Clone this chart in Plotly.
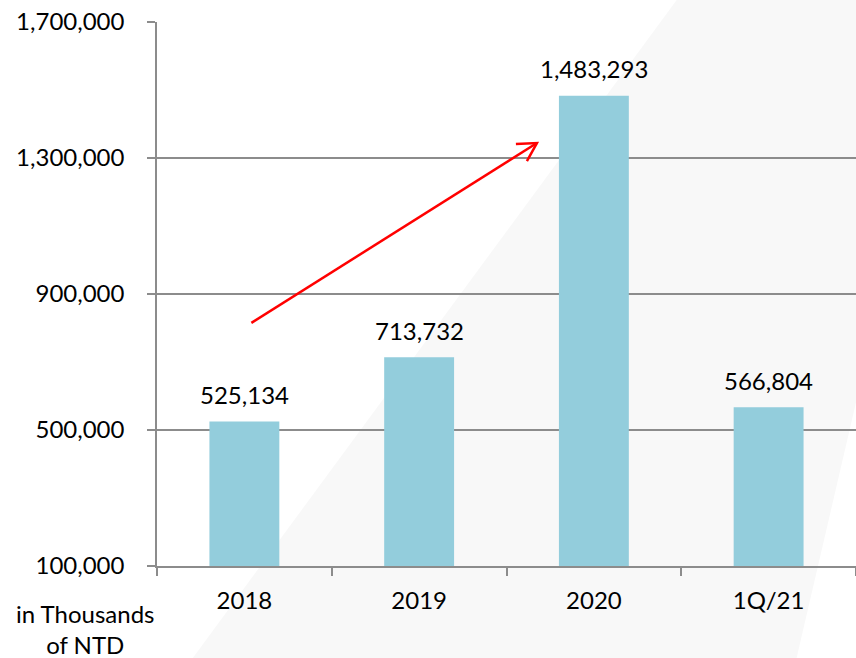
import plotly.graph_objects as go

categories = ["2018", "2019", "2020", "1Q/21"]
values = [525134, 713732, 1483293, 566804]
value_labels = ["525,134", "713,732", "1,483,293", "566,804"]
y_ticks = [100000, 500000, 900000, 1300000, 1700000]
y_tick_labels = ["100,000", "500,000", "900,000", "1,300,000", "1,700,000"]
unit_note = "in Thousands<br>of NTD"
# trend arrow (category index, value)
arrow_start = [0.04, 815000]
arrow_end = [1.674, 1344000]

FONT = "Lato"
BAR = "#93CDDC"
GRID = "#8C8C8C"

fig = go.Figure()
fig.add_trace(go.Bar(
    x=categories, y=values, width=0.4,
    marker=dict(color=BAR, line=dict(width=0)),
    hoverinfo="x+y",
))

for i, (v, lab) in enumerate(zip(values, value_labels)):
    fig.add_annotation(x=i, y=v, text=lab, showarrow=False, yshift=27,
                       xanchor="center", yanchor="middle",
                       font=dict(family=FONT, size=24, color="#000000"))

# faint diagonal background band
fig.add_shape(type="path", xref="paper", yref="paper", layer="below",
              path="M 0.754,1.0588 L 1.137,1.0588 L 0.911,-0.1912 L 0.0386,-0.1912 Z",
              fillcolor="#F8F8F8", line=dict(width=0))

# arrow shaft
fig.add_shape(type="line", xref="x", yref="y",
              x0=arrow_start[0], y0=arrow_start[1], x1=arrow_end[0], y1=arrow_end[1],
              line=dict(color="#FF0000", width=2.5))
# open arrow head (pixel offsets from the tip)
fig.add_shape(type="path", xref="x", yref="y", xsizemode="pixel", ysizemode="pixel",
              xanchor=arrow_end[0], yanchor=arrow_end[1],
              path="M -21,-1 L 0,0 L -10,-18",
              line=dict(color="#FF0000", width=2.5))

fig.add_annotation(text=unit_note, xref="paper", yref="paper", x=-0.103, y=-0.116,
                   xanchor="center", yanchor="middle", showarrow=False, align="center",
                   font=dict(family=FONT, size=24, color="#000000"))

fig.update_layout(
    width=856, height=658,
    margin=dict(l=157, r=0, t=22, b=92),
    paper_bgcolor="white", plot_bgcolor="rgba(0,0,0,0)",
    showlegend=False, bargap=0.6,
    font=dict(family=FONT, size=24, color="#000000"),
)
fig.update_xaxes(
    type="category", showline=True, linecolor=GRID, linewidth=1.5,
    ticks="outside", tickson="boundaries", ticklen=8, tickcolor=GRID, tickwidth=1.5,
    showgrid=False, tickfont=dict(family=FONT, size=24, color="#000000"),
    range=[-0.5, 3.5], ticklabelstandoff=12,
)
fig.update_yaxes(
    range=[100000, 1700000], tickvals=y_ticks, ticktext=y_tick_labels,
    showgrid=True, gridcolor=GRID, gridwidth=1.5,
    showline=True, linecolor=GRID, linewidth=1.5,
    ticks="outside", ticklen=8, tickcolor=GRID, tickwidth=1.5,
    tickfont=dict(family=FONT, size=24, color="#000000"), zeroline=False,
    ticklabelstandoff=18,
)

fig.write_html("out.html", config={"displayModeBar": False},
               post_script="document.body.style.margin='0px';")
